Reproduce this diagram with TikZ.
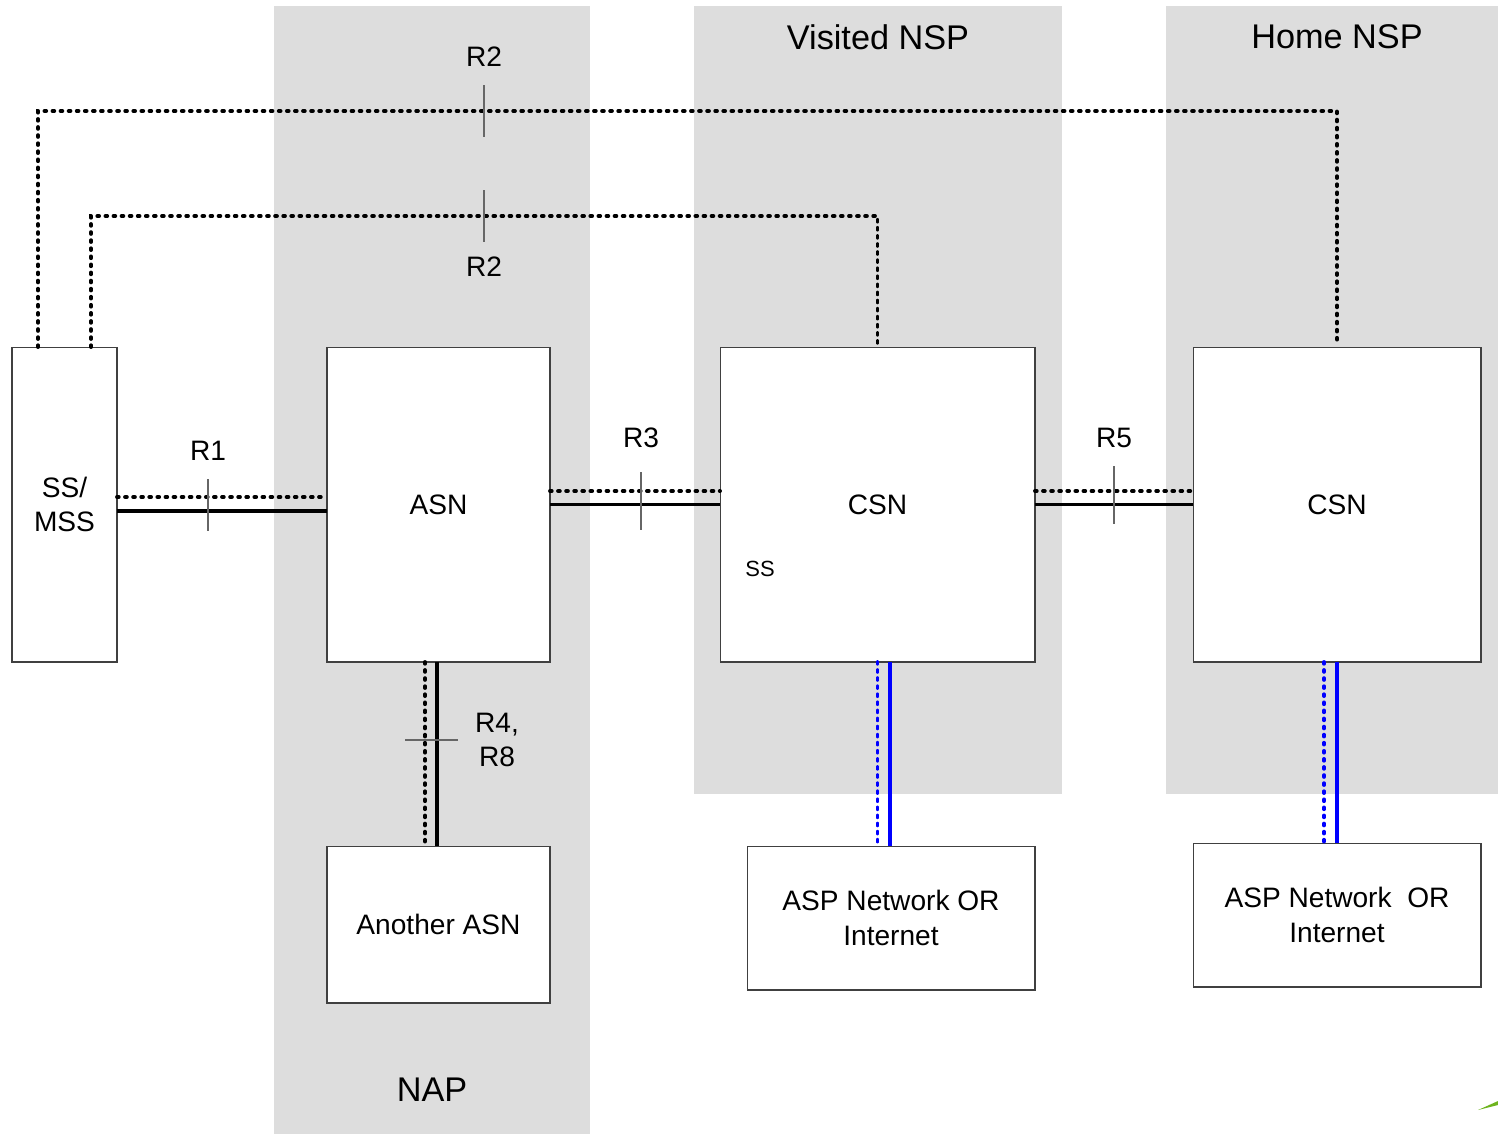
\documentclass[tikz,border=0pt]{standalone}
\usepackage{fontspec}
\setmainfont{Liberation Sans}
\usepackage{xcolor}
\definecolor{cinzafaixa}{RGB}{221,221,221}
\definecolor{meuazul}{RGB}{0,0,255}
\definecolor{folhaverde}{RGB}{110,180,30}

\begin{document}
\begin{tikzpicture}[
        x=0.02cm, y=-0.02cm,
        box/.style={draw=black!75, line width=0.6pt, rectangle, fill=white, inner sep=0pt, outer sep=0pt, align=center, font=\fontsize{16}{19.8}\selectfont},
        band/.style={fill=cinzafaixa, draw=none},
        sig/.style={line width=2.2pt, line cap=round, dash pattern=on 1.0pt off 3.6pt},
        dat/.style={line width=1.9pt},
        tick/.style={line width=0.6pt, black!60},
        lbl/.style={font=\fontsize{16}{19.8}\selectfont, align=center},
        title/.style={font=\fontsize{19.5}{23}\selectfont}
    ]
        \useasboundingbox (0,0) rectangle (1498,1134);

        % faixas de fundo
        \fill[band] (274,6) rectangle (590,1134);
        \fill[band] (694,6) rectangle (1062,794);
        \fill[band] (1166,6) rectangle (1498,794);
        \node[title] (nap) at (432,1090) {NAP};
        \node[title] (visited) at (878,37) {Visited NSP};
        \node[title] (home) at (1337,37) {Home NSP};

        % caixas
        \node[box, minimum width=2.1cm, minimum height=6.3cm] (ss) at (64.5,504.5) {SS/\\MSS};
        \node[box, minimum width=4.46cm, minimum height=6.3cm] (asn) at (438.5,504.5) {ASN};
        \node[box, minimum width=6.3cm, minimum height=6.3cm] (csnv) at (877.5,504.5) {CSN};
        \node[box, minimum width=5.76cm, minimum height=6.3cm] (csnh) at (1337,504.5) {CSN};
        \node[box, minimum width=4.46cm, minimum height=3.14cm] (another) at (438.5,924.5) {Another ASN};
        \node[box, minimum width=5.76cm, minimum height=2.88cm] (asp1) at (891,918) {ASP Network OR\\Internet};
        \node[box, minimum width=5.76cm, minimum height=2.88cm] (asp2) at (1337,915) {ASP Network~ OR\\Internet};
        \node[font=\fontsize{12.5}{15}\selectfont] (ssinner) at (760,569) {SS};

        % R2 (controle)
        \coordinate (r2out) at (484,111);
        \coordinate (r2in) at (484,216);
        \draw[sig] ([xshift=0.52cm]ss.north west) |- (r2out) -| ([yshift=0.1cm]csnh.north);
        \draw[sig] ([xshift=1.58cm]ss.north west) |- (r2in) -| (csnv.north);
        \draw[tick] ([yshift=0.52cm]r2out) -- ([yshift=-0.52cm]r2out);
        \draw[tick] ([yshift=0.52cm]r2in) -- ([yshift=-0.52cm]r2in);
        \node[lbl] (r2a) at (484,57) {R2};
        \node[lbl] (r2b) at (484,267) {R2};

        % R1
        \draw[sig] ([yshift=0.15cm]ss.east) -- ([yshift=0.15cm]asn.west);
        \draw[dat] ([yshift=-0.13cm]ss.east) -- ([yshift=-0.13cm]asn.west);
        \draw[tick] (208,479) -- (208,531);
        \node[lbl] (r1) at (208,451) {R1};

        % R3
        \draw[sig] ([yshift=0.27cm]asn.east) -- ([yshift=0.27cm]csnv.west);
        \draw[dat] (asn.east) -- (csnv.west);
        \draw[tick] (641,472) -- (641,530);
        \node[lbl] (r3) at (641,438) {R3};

        % R5
        \draw[sig] ([yshift=0.27cm]csnv.east) -- ([yshift=0.27cm]csnh.west);
        \draw[dat] (csnv.east) -- (csnh.west);
        \draw[tick] (1114,466) -- (1114,524);
        \node[lbl] (r5) at (1114,438) {R5};

        % R4, R8
        \draw[sig] ([xshift=-0.27cm]asn.south) -- ([xshift=-0.27cm]another.north);
        \draw[dat] ([xshift=-0.03cm]asn.south) -- ([xshift=-0.03cm]another.north);
        \draw[tick] (405,740) -- (458,740);
        \node[lbl] (r4) at (497,740) {R4,\\R8};

        % ligacoes com ASP / Internet
        \draw[sig, meuazul] (csnv.south) -- (csnv.south |- asp1.north);
        \draw[dat, meuazul] ([xshift=0.25cm]csnv.south) -- ([xshift=0.25cm]csnv.south |- asp1.north);
        \draw[sig, meuazul] ([xshift=-0.26cm]csnh.south) -- ([xshift=-0.26cm]csnh.south |- asp2.north);
        \draw[dat, meuazul] (csnh.south) -- (csnh.south |- asp2.north);

        \fill[folhaverde] (1478,1110) -- (1498,1101) -- (1498,1105) -- cycle;

    \end{tikzpicture}
\end{document}
